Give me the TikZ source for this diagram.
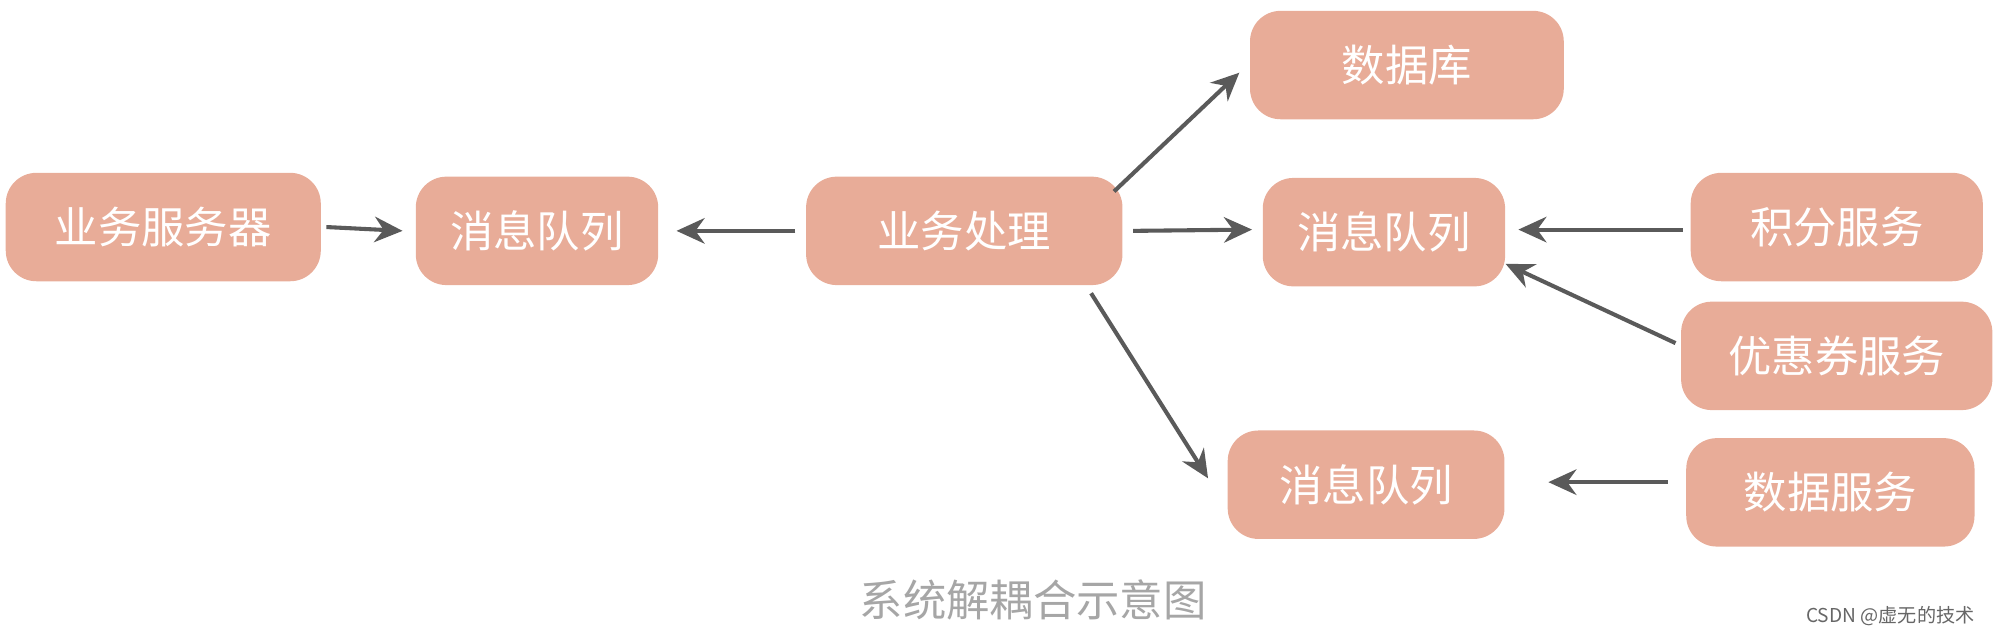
\documentclass[tikz,border=0pt]{standalone}
\usepackage{fontspec}
\newfontfamily\cjk{Noto Sans CJK SC}
\usetikzlibrary{arrows.meta,calc}
\definecolor{boxfill}{HTML}{E8AC98}
\definecolor{arr}{HTML}{5A5A5A}
\begin{document}
\begin{tikzpicture}[x=0.5pt,y=-0.5pt,
  box/.style={draw=none,fill=boxfill,rounded corners=12pt,inner sep=0pt,font=\cjk\fontsize{17}{20}\selectfont,text=white,minimum height=42.5pt},
  conn/.style={draw=arr,line width=1.6pt,-{Stealth[length=11pt,width=10pt]}}]
\useasboundingbox (0,0) rectangle (1568,498);
\node[box,minimum width=123.5pt] (srv) at (128,178) {业务服务器};
\node[box,minimum width=95pt] (mq1) at (421,181) {消息队列};
\node[box,minimum width=124pt] (bp) at (756,181) {业务处理};
\node[box,minimum width=123pt] (db) at (1103,51) {数据库};
\node[box,minimum width=95pt] (mq2) at (1085,182) {消息队列};
\node[box,minimum width=114.5pt] (jf) at (1440,178) {积分服务};
\node[box,minimum width=122pt] (yh) at (1440,279) {优惠券服务};
\node[box,minimum width=108.5pt] (mq3) at (1071,380) {消息队列};
\node[box,minimum width=113pt] (sj) at (1435,386) {数据服务};
\node[text=gray!70,font=\cjk\fontsize{17}{20}\selectfont] (cap) at (810,470) {系统解耦合示意图};
\node[text=gray!80!black,font=\cjk\fontsize{7.5}{9}\selectfont] (wm) at (1482,483) {CSDN @虚无的技术};
\draw[conn] ($(srv.east)+(4,0)$) -- ($(mq1.west)+(-10,0)$);
\draw[conn] ($(bp.west)+(-8,0)$) -- ($(mq1.east)+(14,0)$);
\draw[conn] ($(bp.north east)+(-7,12)$) -- ($(db.west)+(-8,6)$);
\draw[conn] ($(bp.east)+(8,0)$) -- ($(mq2.west)+(-8,-2)$);
\draw[conn] ($(bp.south east)+(-25,6)$) -- ($(mq3.west)+(-15,-5)$);
\draw[conn] ($(jf.west)+(-6,2)$) -- ($(mq2.east)+(10,-2)$);
\draw[conn] ($(yh.west)+(-4,-10)$) -- ($(mq2.south east)+(0,-18)$);
\draw[conn] ($(sj.west)+(-14,-8)$) -- ($(mq3.east)+(34,-2)$);
\end{tikzpicture}
\end{document}
